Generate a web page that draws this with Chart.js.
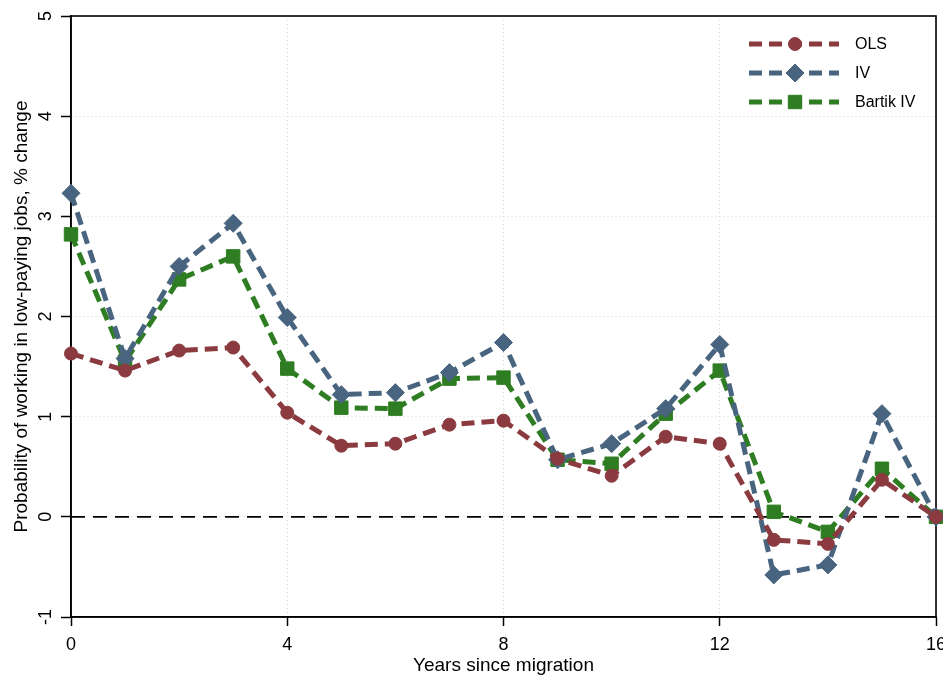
<!DOCTYPE html>
<html>
<head>
<meta charset="utf-8">
<script src="https://cdn.jsdelivr.net/npm/chart.js@4.4.1/dist/chart.umd.min.js"></script>
<style>
  html, body { margin: 0; padding: 0; background: #fff; }
</style>
</head>
<body>
<canvas id="c" width="943" height="679"></canvas>
<script>
// years since migration
const years = [0, 1, 2, 3, 4, 5, 6, 7, 8, 9, 10, 11, 12, 13, 14, 15, 16];

// estimates, % change
const olsValues = [1.63, 1.46, 1.66, 1.69, 1.04, 0.71, 0.73, 0.92, 0.96, 0.58, 0.41, 0.80, 0.73, -0.23, -0.27, 0.37, 0];
const ivValues = [3.23, 1.58, 2.50, 2.93, 1.99, 1.22, 1.24, 1.44, 1.74, 0.57, 0.73, 1.08, 1.72, -0.58, -0.48, 1.03, 0];
const bartikValues = [2.82, 1.55, 2.37, 2.60, 1.48, 1.09, 1.08, 1.38, 1.39, 0.57, 0.53, 1.03, 1.46, 0.05, -0.15, 0.48, 0];

const seriesNames = ["OLS", "IV", "Bartik IV"];
const xTicks = [0, 4, 8, 12, 16];
const yTicks = [-1, 0, 1, 2, 3, 4, 5];

const FONT = "'Liberation Sans', Arial, sans-serif";
const RED = "#8b3b3f";
const BLUE = "#48647f";
const GREEN = "#2f7d22";

function series(label, values, color, style, radius) {
  return {
    label: label,
    data: years.map((x, i) => ({ x: x, y: values[i] })),
    borderColor: color,
    backgroundColor: color,
    borderWidth: 5,
    borderDash: [13, 7],
    pointStyle: style,
    pointRadius: radius,
    pointBorderWidth: 1,
    pointBorderColor: color,
    pointBackgroundColor: color,
    tension: 0,
    clip: false,
  };
}

const extras = {
  id: "extras",
  beforeDatasetsDraw(chart) {
    const { ctx, chartArea: a, scales } = chart;
    const y0 = scales.y.getPixelForValue(0);
    ctx.save();
    // dashed reference line at zero
    ctx.strokeStyle = "#000";
    ctx.lineWidth = 1.6;
    ctx.setLineDash([14, 8]);
    ctx.beginPath();
    ctx.moveTo(a.left, y0);
    ctx.lineTo(a.right, y0);
    ctx.stroke();
    ctx.setLineDash([]);
    // frame
    ctx.lineWidth = 1.6;
    ctx.strokeRect(a.left, a.top, a.right - a.left, a.bottom - a.top);
    // tick labels: y turned like the title, both centred on their ticks
    ctx.fillStyle = "#000";
    ctx.font = "18px " + FONT;
    ctx.textAlign = "center";
    ctx.textBaseline = "middle";
    scales.y.ticks.forEach((t) => {
      const py = scales.y.getPixelForValue(t.value);
      ctx.save();
      ctx.translate(46, py);
      ctx.rotate(-Math.PI / 2);
      ctx.fillText(String(t.value), 0, 0);
      ctx.restore();
    });
    scales.x.ticks.forEach((t) => {
      ctx.fillText(String(t.value), scales.x.getPixelForValue(t.value), 645);
    });
    ctx.restore();
  },
  afterDraw(chart) {
    // legend: dashed line sample with marker, then label
    const ctx = chart.ctx;
    ctx.save();
    chart.data.datasets.forEach((ds, i) => {
      const y = 44 + i * 29;
      ctx.strokeStyle = ds.borderColor;
      ctx.fillStyle = ds.borderColor;
      ctx.lineWidth = 5;
      ctx.setLineDash([13, 7]);
      ctx.beginPath();
      ctx.moveTo(749, y);
      ctx.lineTo(839, y);
      ctx.stroke();
      ctx.setLineDash([]);
      ctx.lineWidth = 1;
      Chart.helpers.drawPoint(ctx, {
        pointStyle: ds.pointStyle,
        radius: ds.pointRadius,
        rotation: 0,
        borderWidth: 1,
      }, 795, y);
      ctx.fillStyle = "#000";
      ctx.font = "16px " + FONT;
      ctx.textBaseline = "middle";
      ctx.textAlign = "left";
      ctx.fillText(ds.label, 855, y + 1);
    });
    ctx.restore();
  }
};

new Chart(document.getElementById("c"), {
  type: "line",
  data: {
    datasets: [
      series(seriesNames[0], olsValues, RED, "circle", 6.5),
      series(seriesNames[1], ivValues, BLUE, "rectRot", 9),
      series(seriesNames[2], bartikValues, GREEN, "rect", 9.5),
    ],
  },
  options: {
    responsive: false,
    animation: false,
    layout: { autoPadding: false, padding: { top: 16, right: 7, left: 0, bottom: 0 } },
    plugins: {
      legend: { display: false },
      tooltip: { enabled: false },
    },
    scales: {
      x: {
        type: "linear",
        min: 0,
        max: 16,
        afterBuildTicks: (s) => { s.ticks = xTicks.map((v) => ({ value: v })); },
        afterFit: (s) => { s.height = 62; s.paddingLeft = 0; s.paddingRight = 0; },
        ticks: { display: false },
        grid: {
          color: "#d8d8d8",
          lineWidth: 1,
          tickColor: "#000",
          tickWidth: 1.5,
          tickLength: 9,
        },
        border: { display: true, color: "#000", width: 1.6, dash: [1, 3] },
        title: {
          display: true,
          text: "Years since migration",
          font: { family: FONT, size: 19 },
          color: "#000",
          padding: { top: 0, bottom: 2 },
        },
      },
      y: {
        min: -1,
        max: 5,
        afterBuildTicks: (s) => { s.ticks = yTicks.map((v) => ({ value: v })); },
        afterFit: (s) => { s.width = 71; s.paddingTop = 0; s.paddingBottom = 0; },
        ticks: { display: false },
        grid: {
          color: "#d8d8d8",
          lineWidth: 1,
          tickColor: "#000",
          tickWidth: 1.5,
          tickLength: 10,
        },
        border: { display: true, color: "#000", width: 1.6, dash: [1, 3] },
        title: {
          display: true,
          text: "Probability of working in low-paying jobs, % change",
          font: { family: FONT, size: 19 },
          color: "#000",
          padding: { top: 10, bottom: 0 },
        },
      },
    },
  },
  plugins: [extras],
});
</script>
</body>
</html>
